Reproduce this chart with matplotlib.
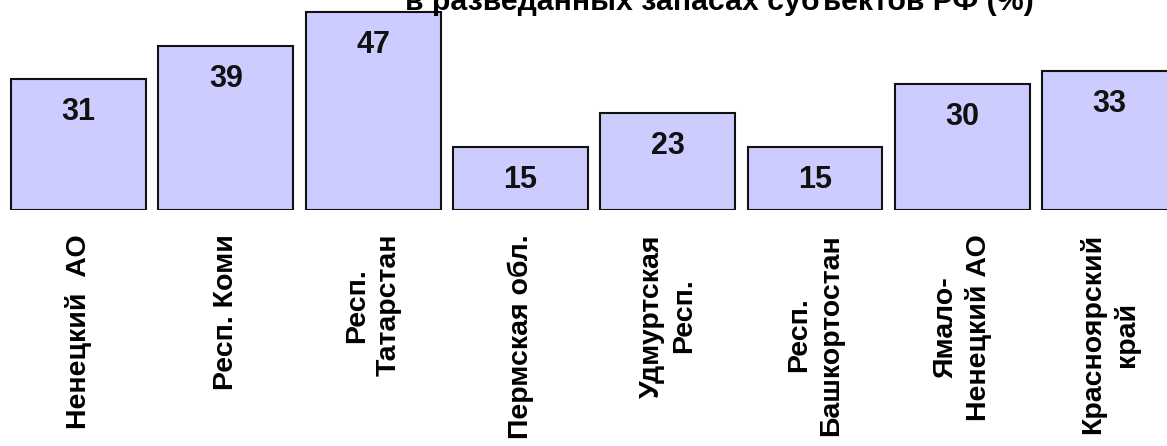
import matplotlib
matplotlib.use("Agg")
import matplotlib.pyplot as plt

# ---- data ----
categories = [
    "Ненецкий  АО",
    "Респ. Коми",
    "Респ.\nТатарстан",
    "Пермская обл.",
    "Удмуртская\nРесп.",
    "Респ.\nБашкортостан",
    "Ямало-\nНенецкий АО",
    "Красноярский\nкрай",
]
values = [31, 39, 47, 15, 23, 15, 30, 33]
title_text = "в разведанных запасах субъектов РФ (%)"

plt.rcParams['font.family'] = ['Liberation Sans', 'DejaVu Sans']

W, H, DPI = 1167, 446, 100
fig = plt.figure(figsize=(W / DPI, H / DPI), dpi=DPI)
fig.patch.set_facecolor('white')

base_px = 210
ax = fig.add_axes([0, (H - base_px) / H, 1, base_px / H])
px_per_unit = 198 / 47.0
ax.set_ylim(0, base_px / px_per_unit)
pitch = 147.3
x_left = -0.458 - 11 / pitch
ax.set_xlim(x_left, x_left + W / pitch)
ax.axis('off')

xs = list(range(len(values)))
ax.bar(xs, values, width=0.916, color='#CCCCFF', edgecolor='#111111', linewidth=1.5)

for x, v in zip(xs, values):
    ax.annotate(str(v), xy=(x, v), xytext=(0, -33), textcoords='offset pixels',
                ha='center', va='center', fontsize=22, fontweight='bold',
                color='#111111', annotation_clip=False)

for x, c in zip(xs, categories):
    ax.annotate(c, xy=(x, 0), xytext=(0, -24), textcoords='offset pixels',
                ha='center', va='top', rotation=90, multialignment='center',
                fontsize=20.5, fontweight='bold', color='black',
                annotation_clip=False, linespacing=1.3)

fig.text(405 / W, 1 - 10 / H, title_text, ha='left', va='baseline',
         fontsize=21.8, fontweight='bold', color='black')

fig.savefig('out.png', dpi=DPI, facecolor='white')
